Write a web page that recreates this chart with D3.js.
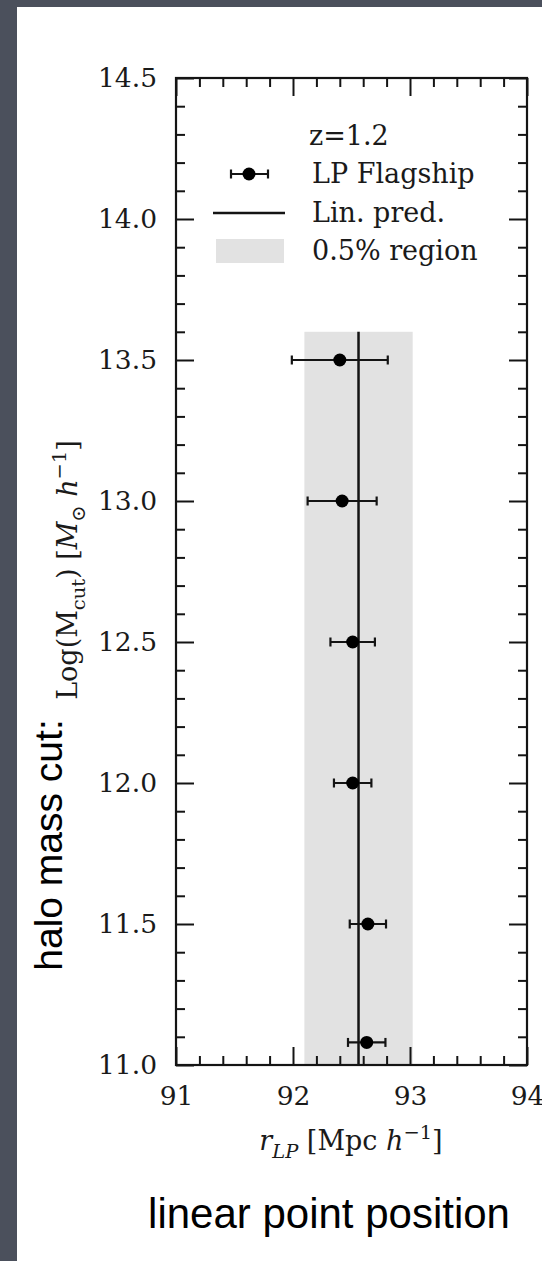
<!DOCTYPE html>
<html>
<head>
<meta charset="utf-8">
<script src="https://cdn.jsdelivr.net/npm/d3@7"></script>
<style>
    body { margin: 0; background: #4b505c; }
    svg { display: block; }
</style>
</head>
<body>
<div id="chart"></div>
<script>
// halo mass cut (log) for each measurement
const massCut = [13.5, 13.0, 12.5, 12.0, 11.5, 11.08];
// linear point position and its error
const rLP = [92.40, 92.42, 92.51, 92.51, 92.64, 92.63];
const rLPErr = [0.41, 0.295, 0.19, 0.16, 0.155, 0.16];
// linear prediction and the 0.5% band around it
const linPred = 92.56;
const regionFrac = 0.005;
const regionTop = 13.6;

const xTicks = [91, 92, 93, 94];
const yTicks = [11.0, 11.5, 12.0, 12.5, 13.0, 13.5, 14.0, 14.5];
const legendLabels = ['LP Flagship', 'Lin. pred.', '0.5% region'];
const redshiftLabel = 'z=1.2';

const W = 542, H = 1261;
const plot = { left: 176, right: 527, top: 78, bottom: 1065 };

const svg = d3.select('#chart').append('svg')
    .attr('width', W)
    .attr('height', H);

// white slide panel
svg.append('rect')
    .attr('x', 17).attr('y', 7)
    .attr('width', W - 17).attr('height', H - 7)
    .attr('fill', '#ffffff');

const x = d3.scaleLinear().domain([91, 94]).range([plot.left, plot.right]);
const y = d3.scaleLinear().domain([11, 14.5]).range([plot.bottom, plot.top]);

const serif = 'DejaVu Serif, serif';
const ink = '#141414';

// shaded 0.5% region
svg.append('rect')
    .attr('x', x(linPred * (1 - regionFrac)))
    .attr('y', y(regionTop))
    .attr('width', x(linPred * (1 + regionFrac)) - x(linPred * (1 - regionFrac)))
    .attr('height', y(11) - y(regionTop))
    .attr('fill', '#e2e2e2');

// linear prediction
svg.append('line')
    .attr('x1', x(linPred)).attr('x2', x(linPred))
    .attr('y1', y(regionTop)).attr('y2', y(11))
    .attr('stroke', ink)
    .attr('stroke-width', 2.5);

// error bars + points
let points = massCut.map((m, i) => ({ m: m, r: rLP[i], e: rLPErr[i] }));

let bars = svg.append('g').attr('stroke', ink).attr('stroke-width', 2.2);
points.forEach(d => {
    bars.append('line')
        .attr('x1', x(d.r - d.e)).attr('x2', x(d.r + d.e))
        .attr('y1', y(d.m)).attr('y2', y(d.m));
    [d.r - d.e, d.r + d.e].forEach(v => {
        bars.append('line')
            .attr('x1', x(v)).attr('x2', x(v))
            .attr('y1', y(d.m) - 4.5).attr('y2', y(d.m) + 4.5);
    });
});

svg.append('g').selectAll('circle')
    .data(points)
    .enter().append('circle')
    .attr('cx', d => x(d.r))
    .attr('cy', d => y(d.m))
    .attr('r', 6.5)
    .attr('fill', '#000');

// frame
svg.append('rect')
    .attr('x', plot.left).attr('y', plot.top)
    .attr('width', plot.right - plot.left)
    .attr('height', plot.bottom - plot.top)
    .attr('fill', 'none')
    .attr('stroke', ink)
    .attr('stroke-width', 2.2);

// ticks on all four sides, pointing inwards
const xMinor = d3.range(91, 94.001, 0.2).filter(v => Math.abs(v - Math.round(v)) > 0.01);
const yMinor = d3.range(11, 14.501, 0.1).filter(v => Math.abs(v * 2 - Math.round(v * 2)) > 0.01);

function styleAxis(g) {
    g.select('.domain').remove();
    g.selectAll('line').attr('stroke', ink).attr('stroke-width', 2);
    g.selectAll('text')
        .attr('fill', '#1a1a1a')
        .style('font-family', serif)
        .style('font-size', '26.5px');
}

svg.append('g')
    .attr('transform', `translate(0,${plot.bottom})`)
    .call(d3.axisBottom(x).tickValues(xTicks).tickSize(-18).tickPadding(21).tickFormat(d3.format('d')))
    .call(styleAxis);
svg.append('g')
    .attr('transform', `translate(0,${plot.bottom})`)
    .call(d3.axisBottom(x).tickValues(xMinor).tickSize(-9).tickFormat(''))
    .call(styleAxis);
svg.append('g')
    .attr('transform', `translate(0,${plot.top})`)
    .call(d3.axisTop(x).tickValues(xTicks).tickSize(-18).tickFormat(''))
    .call(styleAxis);
svg.append('g')
    .attr('transform', `translate(0,${plot.top})`)
    .call(d3.axisTop(x).tickValues(xMinor).tickSize(-9).tickFormat(''))
    .call(styleAxis);

svg.append('g')
    .attr('transform', `translate(${plot.left},0)`)
    .call(d3.axisLeft(y).tickValues(yTicks).tickSize(-18).tickPadding(19).tickFormat(d3.format('.1f')))
    .call(styleAxis);
svg.append('g')
    .attr('transform', `translate(${plot.left},0)`)
    .call(d3.axisLeft(y).tickValues(yMinor).tickSize(-9).tickFormat(''))
    .call(styleAxis);
svg.append('g')
    .attr('transform', `translate(${plot.right},0)`)
    .call(d3.axisRight(y).tickValues(yTicks).tickSize(-18).tickFormat(''))
    .call(styleAxis);
svg.append('g')
    .attr('transform', `translate(${plot.right},0)`)
    .call(d3.axisRight(y).tickValues(yMinor).tickSize(-9).tickFormat(''))
    .call(styleAxis);

// text with sub/superscripts built from tspans
function richText(sel, parts, size) {
    let shift = 0;
    parts.forEach(p => {
        let target = p.pos === 'sub' ? size * 0.28 : p.pos === 'sup' ? -size * 0.42 : 0;
        sel.append('tspan')
            .attr('dy', target - shift)
            .style('font-style', p.it ? 'italic' : 'normal')
            .style('font-size', (p.pos ? size * 0.72 : size) + 'px')
            .text(p.t);
        shift = target;
    });
}

let xTitle = svg.append('text')
    .attr('x', 351).attr('y', 1150)
    .attr('text-anchor', 'middle')
    .attr('fill', '#1a1a1a')
    .style('font-family', serif)
    .style('font-size', '27px');
richText(xTitle, [
    { t: 'r', it: true },
    { t: 'LP', it: true, pos: 'sub' },
    { t: ' [Mpc ' },
    { t: 'h', it: true },
    { t: '−1', pos: 'sup' },
    { t: ']' }
], 27);

let yTitle = svg.append('text')
    .attr('transform', 'translate(77,570) rotate(-90)')
    .attr('text-anchor', 'middle')
    .attr('fill', '#1a1a1a')
    .style('font-family', serif)
    .style('font-size', '27px');
richText(yTitle, [
    { t: 'Log(M' },
    { t: 'cut', pos: 'sub' },
    { t: ') [' },
    { t: 'M', it: true },
    { t: '⊙', pos: 'sub' },
    { t: ' ' },
    { t: 'h', it: true },
    { t: '−1', pos: 'sup' },
    { t: ']' }
], 27);

// slide annotations
svg.append('text')
    .attr('transform', 'translate(62,845) rotate(-90)')
    .attr('text-anchor', 'middle')
    .attr('fill', '#000')
    .style('font-family', 'Liberation Sans, Arial, sans-serif')
    .style('font-size', '39px')
    .text('halo mass cut:');

svg.append('text')
    .attr('x', 329).attr('y', 1228)
    .attr('text-anchor', 'middle')
    .attr('fill', '#000')
    .style('font-family', 'Liberation Sans, Arial, sans-serif')
    .style('font-size', '42px')
    .text('linear point position');

// legend
const legend = svg.append('g');
const legTextX = 312;
const legRowY = [174, 213, 251];

legend.append('text')
    .attr('x', 309).attr('y', 136)
    .attr('dy', '0.35em')
    .attr('fill', '#1a1a1a')
    .style('font-family', serif)
    .style('font-size', '27px')
    .text(redshiftLabel);

legend.selectAll('text.lab')
    .data(legendLabels)
    .enter().append('text')
    .attr('class', 'lab')
    .attr('x', legTextX)
    .attr('y', (d, i) => legRowY[i])
    .attr('dy', '0.35em')
    .attr('fill', '#1a1a1a')
    .style('font-family', serif)
    .style('font-size', '27px')
    .text(d => d);

// errorbar symbol
legend.append('line')
    .attr('x1', 231).attr('x2', 268)
    .attr('y1', legRowY[0]).attr('y2', legRowY[0])
    .attr('stroke', ink).attr('stroke-width', 2.2);
[231, 268].forEach(v => {
    legend.append('line')
        .attr('x1', v).attr('x2', v)
        .attr('y1', legRowY[0] - 4.5).attr('y2', legRowY[0] + 4.5)
        .attr('stroke', ink).attr('stroke-width', 2.2);
});
legend.append('circle')
    .attr('cx', 249).attr('cy', legRowY[0]).attr('r', 6.5).attr('fill', '#000');

// line symbol
legend.append('line')
    .attr('x1', 213).attr('x2', 285)
    .attr('y1', legRowY[1]).attr('y2', legRowY[1])
    .attr('stroke', ink).attr('stroke-width', 2.5);

// band symbol
legend.append('rect')
    .attr('x', 216).attr('y', legRowY[2] - 12)
    .attr('width', 68).attr('height', 24)
    .attr('fill', '#e2e2e2');
</script>
</body>
</html>
